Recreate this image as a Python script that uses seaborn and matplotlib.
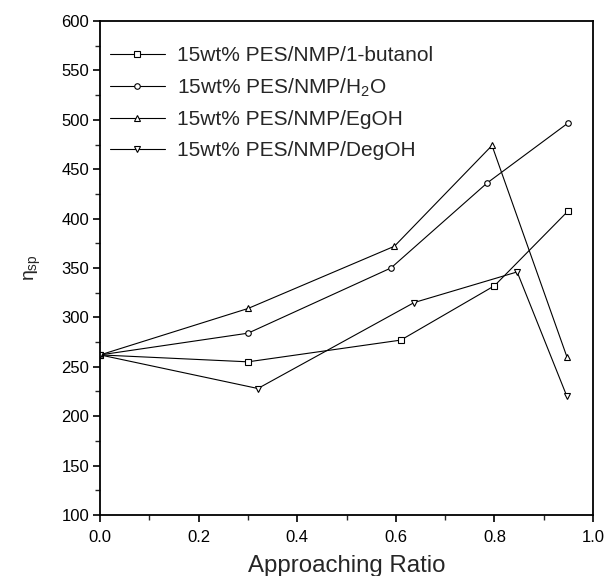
import matplotlib
matplotlib.use("Agg")
import matplotlib.pyplot as plt
import seaborn as sns
import pandas as pd
from matplotlib.ticker import MultipleLocator

x_butanol = [0.0, 0.30, 0.61, 0.80, 0.95]
y_butanol = [262, 255, 277, 332, 408]
x_h2o = [0.0, 0.30, 0.59, 0.785, 0.95]
y_h2o = [262, 284, 350, 436, 497]
x_egoh = [0.0, 0.30, 0.597, 0.795, 0.947]
y_egoh = [262, 309, 372, 474, 260]
x_degoh = [0.0, 0.32, 0.637, 0.846, 0.947]
y_degoh = [262, 228, 315, 346, 220]

labels = ["15wt% PES/NMP/1-butanol", "15wt% PES/NMP/H$_2$O",
          "15wt% PES/NMP/EgOH", "15wt% PES/NMP/DegOH"]
markers = ["s", "o", "^", "v"]

sns.set_style("ticks")
plt.rcParams['font.family'] = ['Liberation Sans', 'DejaVu Sans']
plt.rcParams['mathtext.fontset'] = 'custom'
plt.rcParams['mathtext.rm'] = 'Liberation Sans'
plt.rcParams['mathtext.it'] = 'Liberation Sans'

fig = plt.figure(figsize=(6.07, 5.76), dpi=100)
ax = fig.add_axes([0.165, 0.106, 0.812, 0.8575])

for xs, ys, lab, m in zip([x_butanol, x_h2o, x_egoh, x_degoh],
                          [y_butanol, y_h2o, y_egoh, y_degoh], labels, markers):
    df = pd.DataFrame({"x": xs, "y": ys})
    sns.lineplot(data=df, x="x", y="y", ax=ax, color="black", linewidth=0.8,
                 marker=m, markersize=4, markerfacecolor="white",
                 markeredgecolor="black", markeredgewidth=0.8, label=lab,
                 sort=False)

ax.set_xlim(0, 1.0)
ax.set_ylim(100, 600)
ax.xaxis.set_major_locator(MultipleLocator(0.2))
ax.xaxis.set_minor_locator(MultipleLocator(0.1))
ax.yaxis.set_major_locator(MultipleLocator(50))
ax.yaxis.set_minor_locator(MultipleLocator(25))
ax.tick_params(axis='both', which='major', labelsize=12, length=5, width=1.2,
               direction='out', colors='black', pad=3)
ax.tick_params(axis='x', which='major', pad=6)
ax.tick_params(axis='both', which='minor', length=3.5, width=1, direction='out')
ax.set_xticklabels([f"{v:.1f}" for v in ax.get_xticks()])
for s in ax.spines.values():
    s.set_linewidth(1.3)
    s.set_color('black')
ax.set_xlabel("Approaching Ratio", fontsize=17.3, labelpad=7)
ax.set_ylabel(r"$\eta_{\mathrm{sp}}$", fontsize=14, labelpad=13)
leg = ax.legend(loc="upper left", frameon=False, fontsize=15, handlelength=2.65,
                bbox_to_anchor=(-0.019, 0.987), labelspacing=0.55, handletextpad=0.58)
fig.savefig("out.png", dpi=100)
